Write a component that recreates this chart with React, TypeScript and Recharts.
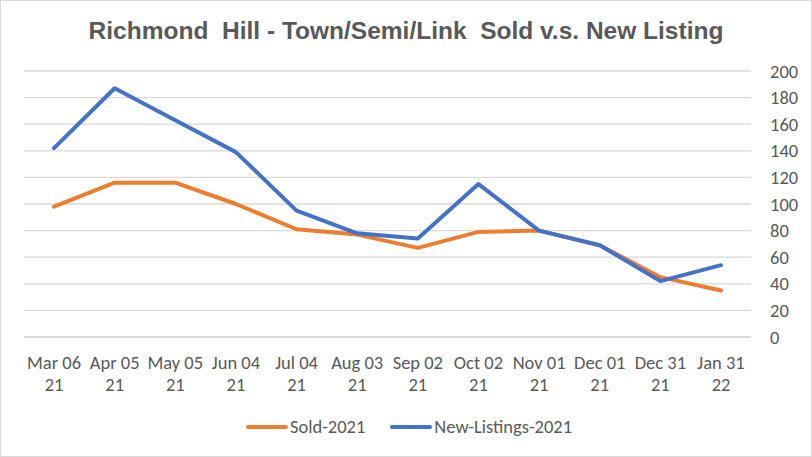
import React from 'react';
import { LineChart, Line, XAxis, YAxis, CartesianGrid, Legend } from 'recharts';

// week labels: "Mon DD" + year on second line
const categories = [
  'Mar 06 21', 'Apr 05 21', 'May 05 21', 'Jun 04 21', 'Jul 04 21', 'Aug 03 21',
  'Sep 02 21', 'Oct 02 21', 'Nov 01 21', 'Dec 01 21', 'Dec 31 21', 'Jan 31 22',
];
const sold2021 = [98, 116, 116, 100, 81, 77, 67, 79, 80, 69, 45, 35];
const newListings2021 = [142, 187, 163, 139, 95, 78, 74, 115, 80, 69, 42, 54];
const yTicks = [0, 20, 40, 60, 80, 100, 120, 140, 160, 180, 200];

const data = categories.map((c, i) => ({
  period: c,
  sold: sold2021[i],
  listings: newListings2021[i],
}));

const FONT = "Carlito, 'Liberation Sans', Arial, sans-serif";
const TITLE_FONT = "'Liberation Sans', Arial, sans-serif";
const TEXT = '#595959';
const GRID = '#D9D9D9';

const TwoLineTick = (props: any) => {
  const { x, y, payload } = props;
  const s: string = payload.value;
  const cut = s.lastIndexOf(' ');
  return (
    <g transform={`translate(${x},${y})`}>
      <text textAnchor="middle" fill={TEXT} fontSize={18.5} fontFamily={FONT}>
        <tspan x={0} dy={24}>{s.slice(0, cut)}</tspan>
        <tspan x={0} dy={22}>{s.slice(cut + 1)}</tspan>
      </text>
    </g>
  );
};

const LegendContent = () => (
  <div style={{ display: 'flex', justifyContent: 'center', gap: 25, fontFamily: FONT, fontSize: 18.5, color: TEXT, paddingRight: 18 }}>
    {[
      { name: 'Sold-2021', color: '#ED7D31' },
      { name: 'New-Listings-2021', color: '#4472C4' },
    ].map((it) => (
      <div key={it.name} style={{ display: 'flex', alignItems: 'center' }}>
        <span style={{ display: 'inline-block', width: 42, height: 4, borderRadius: 2, background: it.color, marginRight: 2 }} />
        <span>{it.name}</span>
      </div>
    ))}
  </div>
);

export default function App() {
  return (
    <div style={{ position: 'absolute', left: 0, top: 0, width: 812, height: 457, background: '#fff' }}>
      <div
        style={{
          position: 'absolute', left: 0, top: 0, width: 812, textAlign: 'center', whiteSpace: 'pre',
          fontFamily: TITLE_FONT, fontWeight: 'bold', fontSize: 24.5, color: TEXT, lineHeight: '62px',
        }}
      >
        {'Richmond  Hill - Town/Semi/Link  Sold v.s. New Listing'}
      </div>
      <div style={{ position: 'absolute', left: 0, top: 0, width: 810, height: 455, border: `1px solid ${GRID}` }} />
      <LineChart width={812} height={457} data={data} margin={{ top: 71, right: 0, left: 24, bottom: 18 }}>
        <CartesianGrid vertical={false} stroke={GRID} strokeWidth={1.3} />
        <XAxis
          dataKey="period"
          interval={0}
          height={78}
          padding={{ left: 30, right: 30 }}
          tickLine={false}
          axisLine={{ stroke: GRID, strokeWidth: 1.3 }}
          tick={<TwoLineTick />}
        />
        <YAxis
          orientation="right"
          domain={[0, 200]}
          ticks={yTicks}
          width={61}
          axisLine={false}
          tickLine={false}
          tickMargin={13}
          tick={{ fill: TEXT, fontSize: 18.5, fontFamily: FONT, textAnchor: 'start' }}
        />
        <Legend verticalAlign="bottom" height={24} content={<LegendContent />} />
        <Line type="linear" dataKey="sold" name="Sold-2021" stroke="#ED7D31" strokeWidth={4} strokeLinecap="round" strokeLinejoin="round" dot={false} isAnimationActive={false} />
        <Line type="linear" dataKey="listings" name="New-Listings-2021" stroke="#4472C4" strokeWidth={4} strokeLinecap="round" strokeLinejoin="round" dot={false} isAnimationActive={false} />
      </LineChart>
    </div>
  );
}
